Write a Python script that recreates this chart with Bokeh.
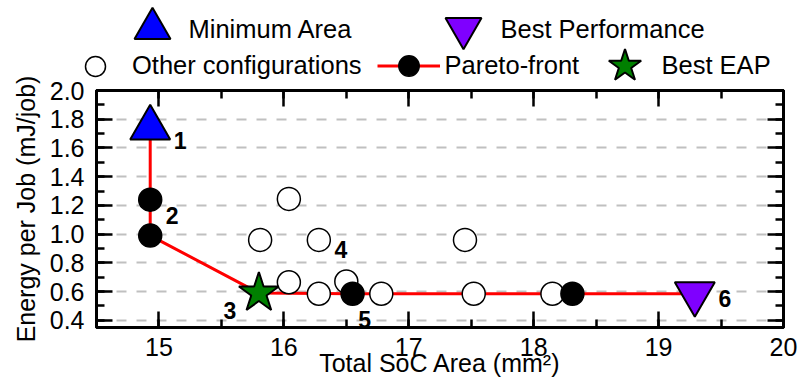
import numpy as np
from bokeh.plotting import figure
from bokeh.models import (ColumnDataSource, Range1d, LinearAxis, FixedTicker,
                          NumeralTickFormatter, Legend, LegendItem, Label)
from bokeh.core.properties import value
from bokeh.embed import file_html
from bokeh.resources import INLINE

FONT = "Liberation Sans"

# Design-space exploration: total SoC area (mm^2) vs energy per job (mJ/job)
other_area = [16.04, 15.81, 16.28, 17.45, 16.04, 16.28, 16.50, 16.78, 17.52, 18.15]
other_energy = [1.245, 0.96, 0.96, 0.96, 0.665, 0.585, 0.67, 0.585, 0.585, 0.585]

# Pareto-optimal configurations, ordered by area
pareto_area = [14.93, 14.93, 14.93, 15.80, 16.55, 18.31, 19.29]
pareto_energy = [1.74, 1.24, 0.99, 0.59, 0.585, 0.585, 0.585]

MIN_AREA, BEST_EAP, BEST_PERF = 0, 3, 6
front_idx = [1, 2, 4, 5]

# numbered annotations: (series, index, label)
callouts = [("pareto", 0, "1"), ("pareto", 1, "2"), ("pareto", 3, "3"),
            ("other", 2, "4"), ("pareto", 4, "5"), ("pareto", 6, "6")]
callout_dx = [30, 22, -29, 22, 12, 30]
callout_dy = [13, 16, 17, 10, 26, 5]

x_ticks = [15, 16, 17, 18, 19, 20]
y_ticks = [0.4, 0.6, 0.8, 1.0, 1.2, 1.4, 1.6, 1.8, 2.0]
x_minor = [14.5 + 0.5 * i for i in range(12)]
y_minor = [round(0.4 + 0.1 * i, 2) for i in range(17)]

W, H = 798, 383
FL, FR, FT, FB = 96, 783, 90, 327   # plot frame edges

# ---------------------------------------------------------------- main plot
p = figure(width=W, height=H, output_backend="svg", toolbar_location=None,
           x_range=Range1d(14.5, 20), y_range=Range1d(0.35, 2.0),
           min_border_left=FL, min_border_right=W - FR,
           min_border_top=FT, min_border_bottom=H - FB,
           x_axis_label="Total SoC Area (mm²)",
           y_axis_label="Energy per Job (mJ/job)")
p.background_fill_color = "white"
p.border_fill_color = "white"
p.outline_line_color = "black"
p.outline_line_width = 3

p.xgrid.visible = False
p.ygrid.ticker = FixedTicker(ticks=y_ticks[:-1])
p.ygrid.grid_line_color = "#c0c0c0"
p.ygrid.grid_line_width = 2
p.ygrid.grid_line_dash = "10 10"


def style_axis(ax, ticks, minor, show_labels):
    ax.ticker = FixedTicker(ticks=ticks, minor_ticks=minor)
    ax.axis_line_width = 3
    ax.major_tick_in = 16
    ax.major_tick_out = 0
    ax.minor_tick_in = 8
    ax.minor_tick_out = 0
    ax.major_tick_line_width = 2.5
    ax.minor_tick_line_width = 2.5
    ax.major_label_text_font = FONT
    if show_labels:
        ax.major_label_text_font_size = "25px"
        ax.major_label_text_color = "black"
    else:
        ax.major_label_text_font_size = "1px"
        ax.major_label_text_color = None
        ax.major_label_standoff = 0
    ax.axis_label_text_font = FONT
    ax.axis_label_text_font_size = "25px"
    ax.axis_label_text_font_style = "normal"
    ax.axis_label_text_color = "black"


style_axis(p.xaxis[0], x_ticks, x_minor, True)
style_axis(p.yaxis[0], y_ticks, y_minor, True)
p.yaxis[0].formatter = NumeralTickFormatter(format="0.0")
p.xaxis[0].major_label_standoff = 10
p.xaxis[0].axis_label_standoff = -10
p.yaxis[0].major_label_standoff = 12
p.yaxis[0].axis_label_standoff = 7

top_ax = LinearAxis()
right_ax = LinearAxis()
style_axis(top_ax, x_ticks, x_minor, False)
style_axis(right_ax, y_ticks, y_minor, False)
p.add_layout(top_ax, "above")
p.add_layout(right_ax, "right")

other_src = ColumnDataSource(dict(x=other_area, y=other_energy))
pareto_src = ColumnDataSource(dict(x=pareto_area, y=pareto_energy))
front_src = ColumnDataSource(dict(x=[pareto_area[i] for i in front_idx],
                                  y=[pareto_energy[i] for i in front_idx]))

LINE = dict(line_color="red", line_width=3)
OTHER = dict(marker="circle", fill_color="white", line_color="black", line_width=1.5)
FRONT = dict(marker="circle", fill_color="black", line_color="black", line_width=1.5)
MINA = dict(marker="triangle", fill_color="blue", line_color="black", line_width=2)
PERF = dict(marker="inverted_triangle", fill_color="#7f00ff", line_color="black", line_width=2)
EAP = dict(marker="star", fill_color="green", line_color="black", line_width=2)

p.line("x", "y", source=pareto_src, **LINE)
p.scatter("x", "y", source=other_src, size=23, **OTHER)
p.scatter("x", "y", source=front_src, size=23, **FRONT)
p.scatter([pareto_area[MIN_AREA]], [pareto_energy[MIN_AREA]], size=40, **MINA)
p.scatter([pareto_area[BEST_PERF]], [pareto_energy[BEST_PERF]], size=40, **PERF)
p.scatter([pareto_area[BEST_EAP]], [pareto_energy[BEST_EAP]], size=42, **EAP)

lab_x, lab_y, lab_t = [], [], []
for series, i, t in callouts:
    xs, ys = (pareto_area, pareto_energy) if series == "pareto" else (other_area, other_energy)
    lab_x.append(xs[i])
    lab_y.append(ys[i])
    lab_t.append(t)
p.text(x="x", y="y", text="t", x_offset="dx", y_offset="dy",
       source=ColumnDataSource(dict(x=lab_x, y=lab_y, t=lab_t,
                                    dx=callout_dx, dy=callout_dy)),
       text_font=value(FONT), text_font_size="23px", text_font_style="bold",
       text_align="center", text_baseline="middle", text_color="black")

# ------------------------------------------------- key overlay (transparent)
k = figure(width=W, height=H, output_backend="svg", toolbar_location=None,
           x_range=Range1d(0, 1), y_range=Range1d(0, 1),
           x_axis_location=None, y_axis_location=None,
           min_border=0, outline_line_color=None,
           background_fill_color=None, border_fill_color=None,
           styles={"position": "absolute", "top": "0px", "left": "0px"})
k.grid.visible = False

nan = np.array([np.nan])
key_line = k.line(nan, nan, **LINE)
key_front = k.scatter(nan, nan, **FRONT)
key_other = k.scatter(nan, nan, **OTHER)
key_mina = k.scatter(nan, nan, **MINA)
key_perf = k.scatter(nan, nan, **PERF)
key_eap = k.scatter(nan, nan, **EAP)


def add_key(label, renderers, cx, cy, gw, gh, text_x, text_y):
    # legend swatch (marker size follows the swatch box) plus its caption
    leg = Legend(items=[LegendItem(label="", renderers=renderers)],
                 location=(cx - gw / 2, H - cy - gh / 2),
                 glyph_width=int(round(gw)), glyph_height=int(round(gh)),
                 label_standoff=0, label_width=0,
                 padding=0, margin=0, spacing=0,
                 background_fill_alpha=0, border_line_alpha=0,
                 label_text_font_size="1px")
    k.add_layout(leg, "center")
    k.add_layout(Label(x=text_x, y=H - text_y, x_units="screen", y_units="screen",
                       text=label, text_font=FONT, text_font_size="25.5px",
                       text_color="black", text_align="left",
                       text_baseline="middle"))


add_key("Minimum Area", [key_mina], 152, 27.6, 90, 90, 188, 28.3)
add_key("Best Performance", [key_perf], 463.3, 28.3, 90, 90, 500, 28.3)
add_key("Other configurations", [key_other], 95, 66.3, 50, 50, 131.5, 64.5)
add_key("Pareto-front", [key_line, key_front], 408.3, 65, 63, 51, 444, 64.5)
add_key("Best EAP", [key_eap], 624.5, 65.4, 85, 85, 661, 64.5)

open("out.html", "w").write(file_html([p, k], INLINE))
